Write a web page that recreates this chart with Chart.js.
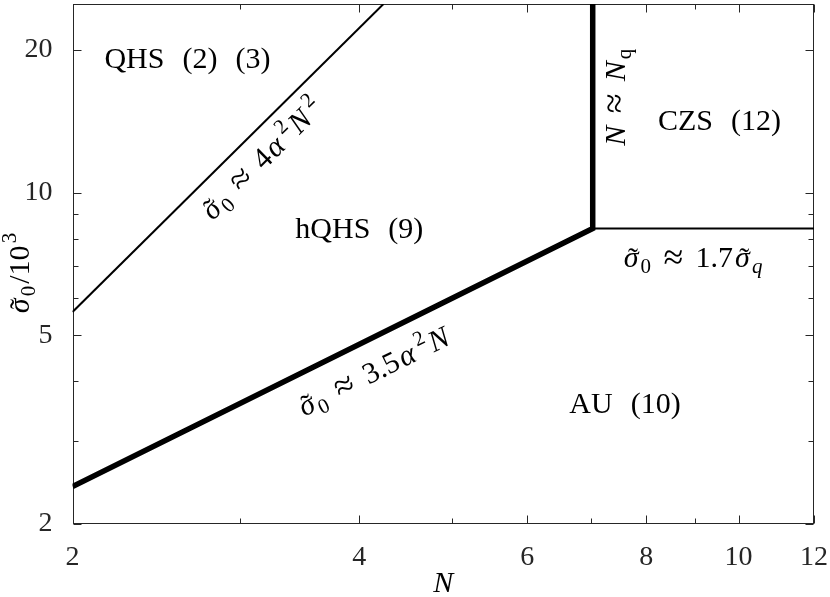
<!DOCTYPE html>
<html>
<head>
<meta charset="utf-8">
<script src="https://cdn.jsdelivr.net/npm/chart.js@4.4.0/dist/chart.umd.min.js"></script>
<style>
  html, body { margin: 0; padding: 0; background: #fff; }
  #wrap { width: 830px; height: 597px; position: relative; }
</style>
</head>
<body>
<div id="wrap"><canvas id="phaseChart"></canvas></div>
<script>
// Phase boundaries: N on x, sigma0/10^3 on y
const qhsLineN = [2, 4.24];
const qhsLineS = [5.6, 25];
const auLineN = [2, 7.03, 7.03];
const auLineS = [2.4, 8.4, 25];
const czsLineN = [7.03, 12];
const czsLineS = [8.4, 8.4];

const xTicks = [2, 4, 6, 8, 10, 12];
const xMinorTicks = [3, 5, 7, 9];
const yTicks = [2, 5, 10, 20];
const yMinorTicks = [3, 4, 6, 7, 8, 9];

// region names and where they sit (data coords)
const regionNames = ['QHS (2) (3)', 'hQHS (9)', 'CZS (12)', 'AU (10)'];
const regionN = [2.64, 4.0, 9.55, 7.6];
const regionS = [19.2, 8.4, 14.2, 3.6];

const FONT = '"Liberation Serif", "Times New Roman", serif';
const INK = '#262626';
const SIZE = 30;      // text inside the axes
const TICK_SIZE = 28;
const MATH_GAP = SIZE * 0.07;   // math in the original is set wider than Times

const SIG = ['σ', 'it'];   // sigma with a tilde

// formula labels: parts + anchor + which line they follow
const formulaLabels = [
    { parts: [SIG, ['0', 'sub'], ['≈', 'rel'], ['4', 'r'], ['α', 'i'], ['2', 'sup'], ['N', 'i'], ['2', 'sup']],
      n: 3.16, s: 11.8, along: [qhsLineN, qhsLineS, 0] },
    { parts: [SIG, ['0', 'sub'], ['≈', 'rel'], ['3.5', 'r'], ['α', 'i'], ['2', 'sup'], ['N', 'i']],
      n: 4.14, s: 4.2, along: [auLineN, auLineS, 0] },
    { parts: [SIG, ['0', 'sub'], ['≈', 'rel'], ['1.7', 'r'], SIG, ['q', 'isub']],
      n: 8.96, s: 7.3, along: null },
    { parts: [['N', 'i'], ['≈', 'rel'], ['N', 'i'], ['q', 'sub']],
      n: 7.42, s: 15.9, vertical: true }
];

function drawRich(ctx, parts, x, y, angle, gap = 0) {
    let prevItalic = false;
    const items = parts.map(([t, k], idx) => {
        const small = k === 'sub' || k === 'sup' || k === 'isub';
        let size = small ? SIZE * 0.7 : SIZE;
        if (k === 'rel') size = SIZE * 1.2;
        const italic = k[0] === 'i';
        const font = (italic ? 'italic ' : '') + size + 'px ' + FONT;
        ctx.font = font;
        let w = ctx.measureText(t).width;
        let pad = 0, lead = idx ? gap : 0;
        if (k === 'sp') w = SIZE * 0.6;
        if (k === 'rel') pad = SIZE * 0.34;
        if (k === 'sup' && prevItalic) lead += SIZE * 0.1;
        let dy = 0;
        if (k === 'sub' || k === 'isub') dy = SIZE * 0.2;
        if (k === 'sup') dy = -SIZE * 0.42;
        if (k === 'rel') dy = SIZE * 0.04;
        prevItalic = italic;
        return { t, font, w: w + 2 * pad + lead, pad: pad + lead, glyphW: w, dy, sp: k === 'sp', tilde: k === 'it' };
    });
    const total = items.reduce((sum, it) => sum + it.w, 0);
    ctx.save();
    ctx.translate(x, y);
    ctx.rotate(angle);
    ctx.fillStyle = '#000';
    ctx.textBaseline = 'alphabetic';
    let cx = -total / 2;
    const base = SIZE * 0.33;
    for (const it of items) {
        if (!it.sp) {
            ctx.font = it.font;
            ctx.textAlign = 'left';
            ctx.fillText(it.t, cx + it.pad, it.dy + base);
            if (it.tilde) {
                ctx.font = SIZE + 'px ' + FONT;
                ctx.textAlign = 'center';
                ctx.fillText('\u02DC', cx + it.pad + it.glyphW / 2 + SIZE * 0.06, it.dy + base + SIZE * 0.02);
            }
        }
        cx += it.w;
    }
    ctx.restore();
}

const axesBox = {
    id: 'axesBox',
    beforeDatasetsDraw(chart) {
        const { ctx, chartArea: a, scales: { x, y } } = chart;
        const L = Math.round(a.left) + 0.5, R = Math.round(a.right) - 0.5;
        const T = Math.round(a.top) + 0.5, B = Math.round(a.bottom) - 0.5;
        ctx.save();
        ctx.strokeStyle = INK;
        ctx.lineWidth = 1;
        ctx.strokeRect(L, T, R - L, B - T);
        ctx.beginPath();
        const xMark = (vals, len) => vals.forEach(v => {
            const px = Math.round(x.getPixelForValue(v)) + 0.5;
            ctx.moveTo(px, B); ctx.lineTo(px, B - len);
            ctx.moveTo(px, T); ctx.lineTo(px, T + len);
        });
        const yMark = (vals, len) => vals.forEach(v => {
            const py = Math.round(y.getPixelForValue(v)) + 0.5;
            ctx.moveTo(L, py); ctx.lineTo(L + len, py);
            ctx.moveTo(R, py); ctx.lineTo(R - len, py);
        });
        xMark(xTicks, 8); xMark(xMinorTicks, 5);
        yMark(yTicks, 8); yMark(yMinorTicks, 5);
        ctx.stroke();
        ctx.restore();
    }
};

const textLabels = {
    id: 'textLabels',
    afterDatasetsDraw(chart) {
        const { ctx, chartArea: a, scales: { x, y } } = chart;
        regionNames.forEach((name, i) => {
            const parts = [];
            name.split(' ').forEach((w, j) => {
                if (j) parts.push(['', 'sp']);
                parts.push([w, 'r']);
            });
            drawRich(ctx, parts, x.getPixelForValue(regionN[i]), y.getPixelForValue(regionS[i]), 0);
        });
        formulaLabels.forEach(f => {
            let angle = 0;
            if (f.vertical) angle = -Math.PI / 2;
            else if (f.along) {
                const [ns, ss, k] = f.along;
                angle = Math.atan2(
                    y.getPixelForValue(ss[k + 1]) - y.getPixelForValue(ss[k]),
                    x.getPixelForValue(ns[k + 1]) - x.getPixelForValue(ns[k]));
            }
            drawRich(ctx, f.parts, x.getPixelForValue(f.n), y.getPixelForValue(f.s), angle, MATH_GAP);
        });
        // y axis title
        drawRich(ctx, [SIG, ['0', 'sub'], ['/10', 'r'], ['3', 'sup']],
            19, (a.top + a.bottom) / 2 + 9, -Math.PI / 2, MATH_GAP);
    }
};

const toPoints = (ns, ss) => ns.map((n, i) => ({ x: n, y: ss[i] }));

const ctx = document.getElementById('phaseChart').getContext('2d');
new Chart(ctx, {
    type: 'line',
    data: {
        datasets: [
            { data: toPoints(qhsLineN, qhsLineS), borderColor: '#000', borderWidth: 2 },
            { data: toPoints(auLineN, auLineS), borderColor: '#000', borderWidth: 5.5, borderJoinStyle: 'miter' },
            { data: toPoints(czsLineN, czsLineS), borderColor: '#000', borderWidth: 2 }
        ]
    },
    options: {
        responsive: true,
        maintainAspectRatio: false,
        animation: false,
        elements: { point: { radius: 0 }, line: { tension: 0 } },
        layout: { padding: { left: 0, right: 16, top: 4, bottom: 0 } },
        plugins: {
            legend: { display: false },
            tooltip: { enabled: false }
        },
        scales: {
            x: {
                type: 'logarithmic',
                min: 2,
                max: 12,
                afterBuildTicks: s => { s.ticks = xTicks.map(v => ({ value: v })); },
                afterFit: s => { s.height = 73; s.paddingLeft = 0; s.paddingRight = 0; },
                grid: { display: false },
                border: { display: false },
                ticks: {
                    font: { family: FONT, size: TICK_SIZE },
                    color: INK,
                    padding: 9,
                    maxRotation: 0,
                    autoSkip: false,
                    callback: v => String(v)
                },
                title: {
                    display: true,
                    text: 'N',
                    color: '#000',
                    padding: { top: 0, bottom: -2 },
                    font: { family: FONT, size: SIZE, style: 'italic', lineHeight: 1 }
                }
            },
            y: {
                type: 'logarithmic',
                min: 2,
                max: 25,
                afterBuildTicks: s => { s.ticks = yTicks.map(v => ({ value: v })); },
                afterFit: s => { s.width = 72.5; s.paddingTop = 0; s.paddingBottom = 0; },
                grid: { display: false },
                border: { display: false },
                ticks: {
                    font: { family: FONT, size: TICK_SIZE },
                    color: INK,
                    padding: 12,
                    autoSkip: false,
                    callback: v => String(v)
                }
            }
        }
    },
    plugins: [axesBox, textLabels]
});
</script>
</body>
</html>
